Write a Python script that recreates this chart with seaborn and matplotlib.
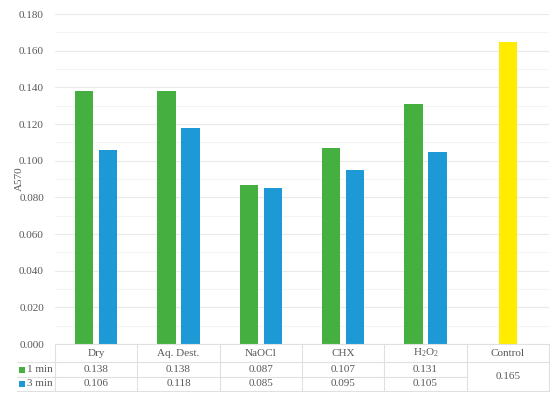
import numpy as np
import pandas as pd
import matplotlib
matplotlib.use("Agg")
import matplotlib.pyplot as plt
import seaborn as sns
from matplotlib.transforms import blended_transform_factory
from matplotlib.lines import Line2D
from matplotlib.patches import Rectangle

categories = ["Dry", "Aq. Dest.", "NaOCl", "CHX", "H$_2$O$_2$", "Control"]
series = ["1 min", "3 min"]
vals_1min = [0.138, 0.138, 0.087, 0.107, 0.131]
vals_3min = [0.106, 0.118, 0.085, 0.095, 0.105]
control_val = 0.165
yticks = [0.0, 0.02, 0.04, 0.06, 0.08, 0.10, 0.12, 0.14, 0.16, 0.18]

GREEN = "#45B03F"
BLUE = "#1D9AD6"
YELLOW = "#FFEC00"
TXT = "#595959"
GRID = "#E9E9E9"

sns.set_style("white")
plt.rcParams["font.family"] = ["Liberation Serif", "DejaVu Serif"]
plt.rcParams["mathtext.fontset"] = "custom"
plt.rcParams["mathtext.rm"] = "Liberation Serif"

rows = []
for i, c in enumerate(categories[:5]):
    rows.append({"cat": c, "series": "1 min", "val": vals_1min[i]})
    rows.append({"cat": c, "series": "3 min", "val": vals_3min[i]})
df = pd.DataFrame(rows)
df_ctrl = pd.DataFrame({"cat": ["Control"], "val": [control_val]})

fig = plt.figure(figsize=(5.5, 3.94), dpi=100)
ax = fig.add_axes([55/550, 1 - 344/394, 494/550, 330/394])

sns.barplot(data=df, x="cat", y="val", hue="series", order=categories,
            hue_order=series, palette=[GREEN, BLUE], width=0.584, gap=0.23,
            saturation=1, ax=ax, legend=False, errorbar=None, linewidth=0)
sns.barplot(data=df_ctrl, x="cat", y="val", order=categories, color=YELLOW,
            width=0.225, saturation=1, ax=ax, errorbar=None, linewidth=0)

ax.set_xlim(-0.5, 5.5)
ax.set_ylim(0, 0.18)
ax.set_yticks(yticks)
ax.set_yticklabels([f"{v:.3f}" for v in yticks], color=TXT, fontsize=8)
ax.set_yticks(np.arange(0.01, 0.18, 0.02), minor=True)
ax.tick_params(axis="y", length=0, pad=8)
ax.tick_params(axis="y", which="minor", length=0)
ax.set_xticks([])
ax.set_xlabel("")
ax.set_ylabel("A570", color=TXT, fontsize=8)
ax.yaxis.set_label_coords(-0.062, 0.5)
ax.grid(axis="y", which="major", color=GRID, lw=0.8)
ax.grid(axis="y", which="minor", color="#F4F4F4", lw=0.8)
ax.set_axisbelow(True)
for s in ax.spines.values():
    s.set_visible(False)

# data table
tr = blended_transform_factory(ax.transData, ax.transAxes)
lc = "#E0E0E0"
y0, y1, y2, y3 = 0.0, -18/330, -33/330, -47/330
colw = 494/6
xl = (17 - 55)/colw - 0.5
def hline(x_a, x_b, y):
    ax.add_line(Line2D([x_a, x_b], [y, y], transform=tr, color=lc, lw=0.8, clip_on=False))
def vline(x, ya, yb):
    ax.add_line(Line2D([x, x], [ya, yb], transform=tr, color=lc, lw=0.8, clip_on=False))
hline(-0.5, 5.5, y0)
hline(xl, 5.5, y1)
hline(xl, 4.5, y2)
hline(xl, 5.5, y3)
for k in range(7):
    vline(k - 0.5, y0, y3)

fs = 8
for i, c in enumerate(categories):
    ax.text(i, (y0 + y1)/2, c, transform=tr, ha="center", va="center", fontsize=fs, color=TXT)
for i in range(5):
    ax.text(i, (y1 + y2)/2, f"{vals_1min[i]:.3f}", transform=tr, ha="center", va="center", fontsize=fs, color=TXT)
    ax.text(i, (y2 + y3)/2, f"{vals_3min[i]:.3f}", transform=tr, ha="center", va="center", fontsize=fs, color=TXT)
ax.text(5, (y1 + y3)/2, f"{control_val:.3f}", transform=tr, ha="center", va="center", fontsize=fs, color=TXT)

sq = 6/colw
for lab, col, (ya, yb) in zip(series, [GREEN, BLUE], [(y1, y2), (y2, y3)]):
    ym = (ya + yb)/2
    ax.add_patch(Rectangle((xl + 2/colw, ym - 3/330), sq, 6/330, transform=tr,
                           facecolor=col, edgecolor="none", clip_on=False))
    ax.text(xl + 10/colw, ym, lab, transform=tr, ha="left", va="center", fontsize=fs, color=TXT)

fig.savefig("out.png", dpi=100)
